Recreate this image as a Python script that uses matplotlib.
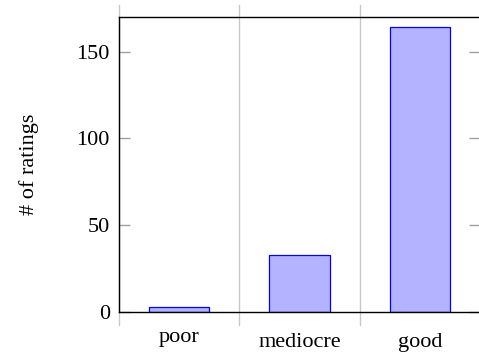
import matplotlib
matplotlib.use("Agg")
import matplotlib.pyplot as plt
import matplotlib.transforms as mtransforms

categories = ["poor", "mediocre", "good"]
counts = [3, 33, 164]
y_ticks = [0, 50, 100, 150]

plt.rcParams["font.family"] = ["Liberation Serif", "DejaVu Serif"]

fig = plt.figure(figsize=(4.79, 3.54), dpi=100)
W, H = 479, 354
x0, x1 = 119, 480
y_top, y_bot = 17, 312
ax = fig.add_axes([x0 / W, (H - y_bot) / H, (x1 - x0) / W, (y_bot - y_top) / H])

pos = list(range(len(categories)))
ax.bar(pos, counts, width=0.5, color="#b3b3ff", edgecolor="#0000ff", linewidth=0.9, zorder=3)

ax.set_xlim(-0.5, len(categories) - 0.5)
ax.set_ylim(0, 170)

# category separators that run past the frame, like pgfplots tick grid
span = y_bot - y_top
for b in [i - 0.5 for i in range(len(categories) + 1)]:
    ax.axvline(b, ymin=-13 / span, ymax=1 + 12 / span, color="#c8c8c8",
               linewidth=1.0, clip_on=False, zorder=1)

fs = 16
ax.set_xticks(pos)
ax.set_xticklabels(categories, fontsize=fs)
ax.tick_params(axis="x", length=0, pad=15)
# labels without ascenders sit centred, so they rise a little
for lab in ax.get_xticklabels():
    if not any(c in "bdfhklt" for c in lab.get_text()):
        lab.set_transform(lab.get_transform() +
                          mtransforms.ScaledTranslation(0, 5 / 100, fig.dpi_scale_trans))

ax.set_yticks(y_ticks)
ax.tick_params(axis="y", direction="in", length=8, width=1.0, color="#a0a0a0",
               labelsize=fs, left=True, right=True, pad=6.5)

for s in ax.spines.values():
    s.set_color("black")
    s.set_linewidth(1.0)
    s.set_zorder(4)

ax.set_ylabel("# of ratings", fontsize=fs, labelpad=27)

fig.savefig("out.png", dpi=100)
